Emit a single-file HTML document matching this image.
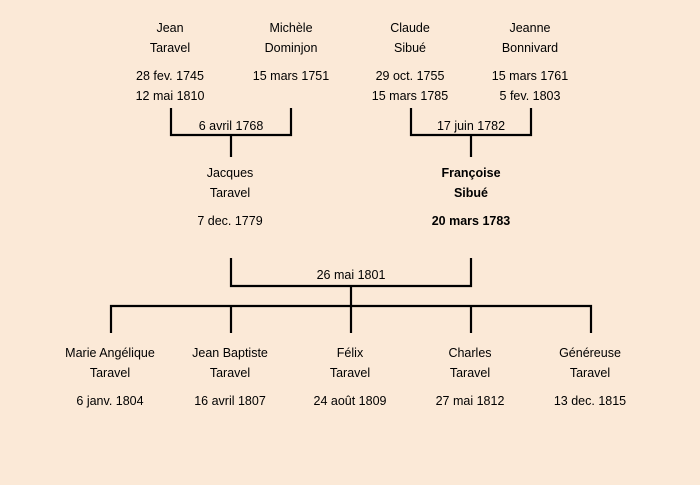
<!DOCTYPE html>
<html><head><meta charset="utf-8"><style>
html,body{margin:0;padding:0;background:#fbe9d7;}
svg{display:block}
text{font-family:"Liberation Sans",sans-serif;font-size:12.5px;fill:#000;text-anchor:middle}
.b{font-weight:bold}
</style></head><body>
<svg width="700" height="485" viewBox="0 0 700 485">
<rect width="700" height="485" fill="#fbe9d7"/>
<g stroke="#000" stroke-width="2.2" fill="none">
<path d="M171 108V135H291V108M231 135V157"/>
<path d="M411 108V135H531V108M471 135V157"/>
<path d="M231 258V286H471V258M351 286V306"/>
<path d="M111 333V306H591V333M231 306V333M351 306V333M471 306V333"/>
</g>
<text x="170" y="32">Jean</text><text x="170" y="52">Taravel</text>
<text x="170" y="80">28 fev. 1745</text><text x="170" y="100">12 mai 1810</text>
<text x="291" y="32">Michèle</text><text x="291" y="52">Dominjon</text>
<text x="291" y="80">15 mars 1751</text>
<text x="410" y="32">Claude</text><text x="410" y="52">Sibué</text>
<text x="410" y="80">29 oct. 1755</text><text x="410" y="100">15 mars 1785</text>
<text x="530" y="32">Jeanne</text><text x="530" y="52">Bonnivard</text>
<text x="530" y="80">15 mars 1761</text><text x="530" y="100">5 fev. 1803</text>
<text x="231" y="130">6 avril 1768</text>
<text x="471" y="130">17 juin 1782</text>
<text x="230" y="177">Jacques</text><text x="230" y="197">Taravel</text>
<text x="230" y="225">7 dec. 1779</text>
<text class="b" x="471" y="177">Françoise</text><text class="b" x="471" y="197">Sibué</text>
<text class="b" x="471" y="225">20 mars 1783</text>
<text x="351" y="279">26 mai 1801</text>
<text x="110" y="357">Marie Angélique</text><text x="110" y="377">Taravel</text><text x="110" y="405">6 janv. 1804</text>
<text x="230" y="357">Jean Baptiste</text><text x="230" y="377">Taravel</text><text x="230" y="405">16 avril 1807</text>
<text x="350" y="357">Félix</text><text x="350" y="377">Taravel</text><text x="350" y="405">24 août 1809</text>
<text x="470" y="357">Charles</text><text x="470" y="377">Taravel</text><text x="470" y="405">27 mai 1812</text>
<text x="590" y="357">Généreuse</text><text x="590" y="377">Taravel</text><text x="590" y="405">13 dec. 1815</text>
</svg>
</body></html>
